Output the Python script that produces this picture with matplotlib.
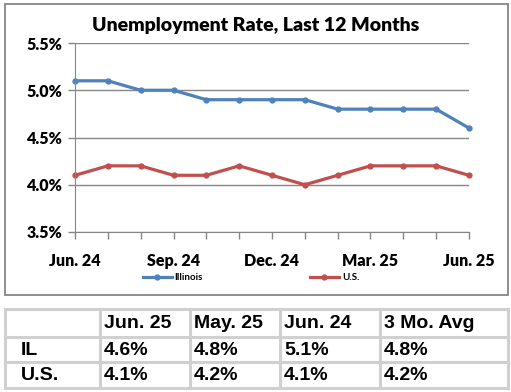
import matplotlib.pyplot as plt
from matplotlib.patches import Rectangle

# chart data
months = ['Jun. 24', 'Jul. 24', 'Aug. 24', 'Sep. 24', 'Oct. 24', 'Nov. 24', 'Dec. 24',
          'Jan. 25', 'Feb. 25', 'Mar. 25', 'Apr. 25', 'May. 25', 'Jun. 25']
illinois = [5.1, 5.1, 5.0, 5.0, 4.9, 4.9, 4.9, 4.9, 4.8, 4.8, 4.8, 4.8, 4.6]
us = [4.1, 4.2, 4.2, 4.1, 4.1, 4.2, 4.1, 4.0, 4.1, 4.2, 4.2, 4.2, 4.1]
yticks = [3.5, 4.0, 4.5, 5.0, 5.5]

# table data
col_labels = ['', 'Jun. 25', 'May. 25', 'Jun. 24', '3 Mo. Avg']
row_labels = ['IL', 'U.S.']
table_vals = [['4.6%', '4.8%', '5.1%', '4.8%'],
              ['4.1%', '4.2%', '4.1%', '4.2%']]

W, H = 511, 392
fig = plt.figure(figsize=(W / 100, H / 100), dpi=100)

blue = '#4F81BD'
red = '#C0504D'
grid = '#868686'
wt = 'heavy'

# background axes in pixel coords for border and table
bg = fig.add_axes([0, 0, 1, 1])
bg.set_xlim(0, W)
bg.set_ylim(H, 0)
bg.axis('off')
bg.add_patch(Rectangle((5, 4), 503, 291, fill=False, edgecolor=grid, lw=1.3))

# line chart
ax = fig.add_axes([75 / W, 1 - 232 / H, (469 - 75) / W, (232 - 43) / H])
x = list(range(len(months)))
ax.plot(x, illinois, color=blue, lw=2.3, marker='o', ms=3.5, label='Illinois', clip_on=False)
ax.plot(x, us, color=red, lw=2.3, marker='o', ms=3.5, label='U.S.', clip_on=False)
ax.set_xlim(0, len(months) - 1)
ax.set_ylim(3.5, 5.5)
ax.set_yticks(yticks)
ax.set_yticklabels([f'{v:.1f}%' for v in yticks], fontsize=11.5, fontweight=wt, family='Lato')
ax.set_xticks(x)
ax.set_xticklabels([m if i % 3 == 0 else '' for i, m in enumerate(months)],
                   fontsize=11.5, fontweight=wt, family='Lato')
ax.tick_params(axis='both', direction='out', length=5, color=grid, width=1)
ax.tick_params(axis='x', pad=10)
ax.tick_params(axis='y', pad=4)
ax.grid(axis='y', color=grid, lw=1)
ax.set_axisbelow(True)
for s in ['top', 'right']:
    ax.spines[s].set_visible(False)
for s in ['left', 'bottom']:
    ax.spines[s].set_color(grid)
fig.text(256 / W, 1 - 26 / H, 'Unemployment Rate, Last 12 Months', fontsize=14,
         fontweight=wt, family='Lato', ha='center', va='center')

fig.legend(loc='center', bbox_to_anchor=(251 / W, 1 - 278 / H), ncol=2, frameon=False,
           prop={'family': 'Lato', 'size': 7, 'weight': 'bold'},
           handlelength=3.0, columnspacing=11, handletextpad=0.3)

# table
col_edges = [5, 100, 190, 280, 380, 508]
row_edges = [309, 337, 362, 388]
line_c = '#D0D0D0'
for cx in col_edges:
    bg.plot([cx, cx], [row_edges[0], row_edges[-1]], color=line_c, lw=2.2)
for ry in row_edges:
    bg.plot([col_edges[0], col_edges[-1]], [ry, ry], color=line_c, lw=2.2)

tfont = dict(family='Liberation Sans', fontweight='bold', fontsize=14, va='center')
for j, lab in enumerate(col_labels):
    if lab:
        bg.text(col_edges[j] + 4, (row_edges[0] + row_edges[1]) / 2 + 1, lab, **tfont)
for i, rl in enumerate(row_labels):
    yc = (row_edges[i + 1] + row_edges[i + 2]) / 2 + 1
    bg.text(col_edges[0] + 16, yc, rl, **tfont)
    for j, v in enumerate(table_vals[i]):
        bg.text(col_edges[j + 1] + 4, yc, v, **tfont)

fig.savefig('out.png', dpi=100)
